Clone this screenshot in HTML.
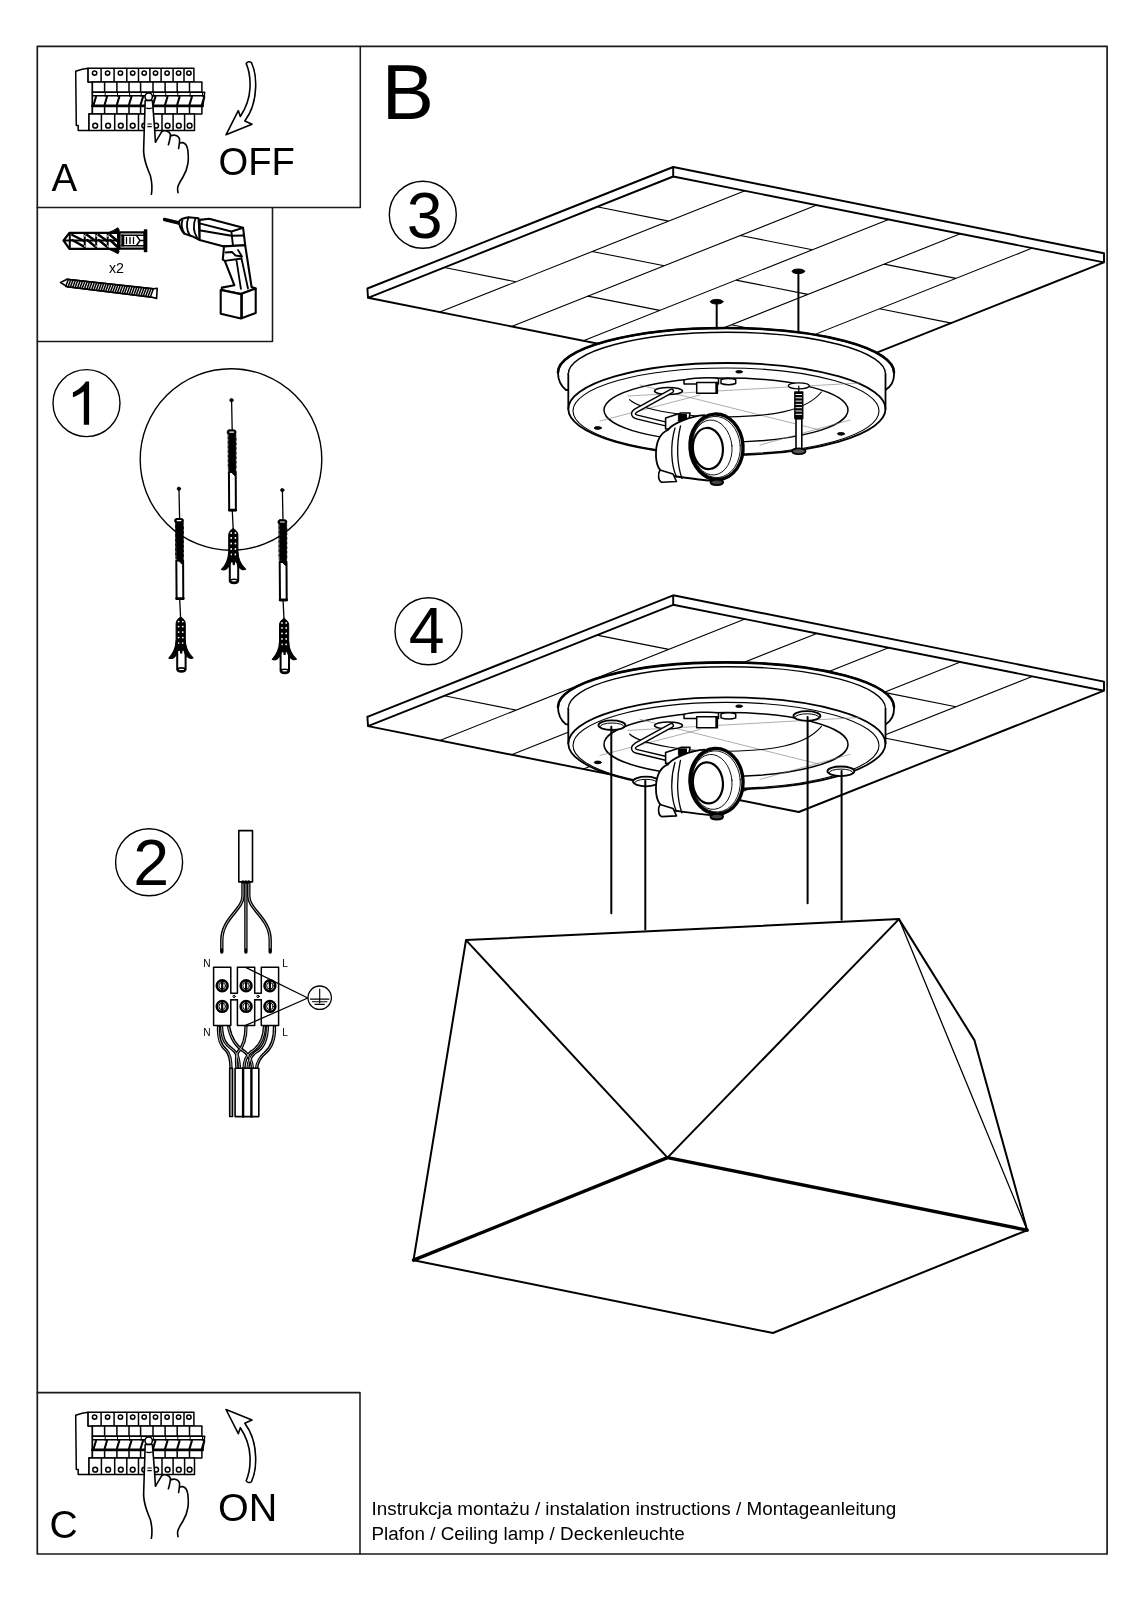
<!DOCTYPE html>
<html><head><meta charset="utf-8">
<style>
html,body{margin:0;padding:0;background:#fff;width:1131px;height:1600px;overflow:hidden}
svg{position:absolute;left:0;top:0;display:block;will-change:transform}
text{font-family:"Liberation Sans",sans-serif;fill:#000}
.tx{opacity:0.999}
</style></head>
<body>
<svg width="1131" height="1600" viewBox="0 0 1131 1600">
<g fill="none" stroke="#000" stroke-linejoin="round" stroke-linecap="round">
<g id="plate">
<path stroke-width="1.1" d="M439.8 312.1L745 190.8M511.6 326.4L816.8 205.1M583.4 340.8L888.6 219.5M655.2 355.1L960.4 233.8M727 369.4L1032.2 248.1M444.3 267.5L516.1 281.8M596.9 206.8L668.7 221.1M592.4 251.5L664.2 265.8M587.9 296.1L659.7 310.4M740.5 235.5L812.3 249.8M736 280.1L807.8 294.4M731.5 324.7L803.3 339.1M884.1 264.1L955.9 278.4M879.6 308.7L951.4 323.1"/>
<path stroke-width="1.9" d="M368 297.8L798.8 383.7L1104 262.4M367.4 288.5L673.2 167L1104 253.3L1104 262.4M367.4 288.5L368 297.8L673.2 176.5L1104 262.4M673.2 167V176.5"/>
</g>
<use href="#plate" transform="translate(0,428.3)"/>
<g id="canopy">
<!-- flange -->
<path stroke-width="1.8" fill="#fff" d="M558 372.5A168 44.5 0 0 1 894 372.5C894.5 380 892 386 885.5 390L566 390C561 386 558 380 558 372.5Z"/>
<path stroke-width="2.6" d="M558 372.5A168 44.5 0 0 1 894 372.5"/>
<path stroke-width="1.4" d="M568.3 374A158.6 41.7 0 0 1 885.5 374"/>
<!-- body side -->
<path stroke="none" fill="#fff" d="M568.3 373V409A158.6 46 0 0 0 885.5 409V373Z"/><path stroke-width="1.8" d="M568.3 374V409A158.6 46 0 0 0 885.5 409V374"/>
<!-- bottom face rim -->
<path stroke-width="1.8" d="M568.3 409A158.6 46 0 0 1 885.5 409"/>
<path stroke-width="1.1" d="M573 411A153 43 0 0 1 879 411A153 43 0 0 1 573 411"/>
<!-- recess -->
<path stroke-width="1.5" d="M604 410A122 32 0 0 1 848 410A122 32 0 0 1 604 410"/>
<path stroke-width="0.6" stroke="#777" d="M628 396L860 383M600 421L700 395M760 445L850 420M640 385L820 430"/>
<path stroke-width="1.1" d="M629.6 399.6C640 410 690 418 728.6 416.9C770 416 805 412 821.4 392"/>
<!-- dots -->
<ellipse cx="597.8" cy="428" rx="3.6" ry="1.4" fill="#000" stroke-width="0.8"/>
<ellipse cx="841" cy="433.8" rx="3.6" ry="1.4" fill="#000" stroke-width="0.8"/>
<ellipse cx="739.1" cy="371.8" rx="3.4" ry="1.3" fill="#000" stroke-width="0.8"/>
<!-- top brackets -->
<path stroke-width="1.5" fill="#fff" d="M684 380C690 378 712 377 718.5 378.5L718.5 384H684Z"/>
<path stroke-width="1.5" fill="#fff" d="M696.7 382.4H717.4V393.3H696.7Z"/>
<path stroke-width="2.4" d="M716.5 383V392.5"/>
<path stroke-width="1.5" fill="#fff" d="M721 379.5C725 378 732 378 735.7 379.5V383.5C732 385 725 385 721 383.5Z"/>
</g>
<g id="socket">
<!-- wire hole -->
<ellipse cx="668.5" cy="391" rx="14" ry="3.5" stroke-width="1.5" fill="#fff"/>
<path stroke-width="5.2" d="M671.5 391L636 410.5C632 413 633 416 637 417L668 424.5"/>
<path stroke-width="2.4" stroke="#fff" d="M671.5 391L636 410.5C632 413 633 416 637 417L668 424.5"/>
<!-- bracket -->
<path stroke-width="1.6" fill="#fff" d="M665.6 418L681 413H690L687.5 429H665.6Z"/>
<path stroke-width="1" fill="#000" d="M678.8 414.5H686.5V421H678.8Z"/>
<!-- socket -->
<path stroke-width="1.8" fill="#fff" d="M667.9 430C672 424 690 416 704.7 415.2L712 480.7C700 480 680 477 667.9 475C660 473 655.5 465 656 452C656.5 440 661 433 667.9 430Z"/>
<path stroke-width="1.3" d="M675 428C670 445 671 465 676.5 477M680.5 426C676 445 677 465 682 478.5"/>
<path stroke-width="1.6" fill="#fff" d="M660 470L673 474L676.5 481.5L661.5 482.2C658 480.5 657.8 474 660 470Z"/>
<ellipse cx="716.5" cy="446.8" rx="26.5" ry="32.8" stroke-width="3.4" fill="#fff" transform="rotate(-4 716.5 446.8)"/>
<ellipse cx="716" cy="447" rx="24.3" ry="30.6" stroke-width="0.9" transform="rotate(-4 716 447)"/>
<ellipse cx="712" cy="447.5" rx="20" ry="27.5" stroke-width="0.9" transform="rotate(-5 712 447.5)"/>
<ellipse cx="707.9" cy="448.5" rx="15" ry="20.6" stroke-width="2.2" transform="rotate(-5 707.9 448.5)"/>
<ellipse cx="716.8" cy="482.3" rx="6.3" ry="2.8" stroke-width="1.8" fill="#444"/>

</g>
<g id="c3extra">
<path stroke-width="2" d="M716.7 302V328.5M798.4 271.5V331.8"/>
<ellipse cx="716.7" cy="301.7" rx="6.3" ry="2.3" fill="#000" stroke-width="1"/>
<ellipse cx="798.4" cy="271.3" rx="6.3" ry="2.3" fill="#000" stroke-width="1"/>
<ellipse cx="798.8" cy="385.8" rx="10.5" ry="3" stroke-width="1.3" fill="#fff"/>
<path stroke-width="1.6" fill="#fff" d="M796 418.7H801.8V449.5H796Z"/>
<path stroke-width="1.3" fill="#000" d="M794.8 392H802.8V418.7H794.8Z"/>
<path stroke-width="1" stroke="#fff" d="M796 394.5H801.6M796 397.8H801.6M796 401.1H801.6M796 404.4H801.6M796 407.7H801.6M796 411H801.6M796 414.3H801.6"/>
<path stroke-width="1.2" d="M798.8 386V392"/>
<ellipse cx="798.8" cy="451.3" rx="6.8" ry="2.9" stroke-width="1.6" fill="#555"/>
</g>
<use href="#canopy" transform="translate(0,334.4)"/>
<g id="c4extra">
<g stroke-width="1.8" fill="#fff">
<ellipse cx="611.9" cy="725.2" rx="13.5" ry="4.8"/>
<ellipse cx="646" cy="781.5" rx="13" ry="4.8"/>
<ellipse cx="806.9" cy="716" rx="13.5" ry="4.8"/>
<ellipse cx="840.9" cy="771.3" rx="13.5" ry="4.8"/>
</g>
<g stroke-width="1">
<path d="M600 726.5A12 3.5 0 0 1 624 726.5M634.5 782.8A11.5 3.5 0 0 1 657.5 782.8M795 717.3A12 3.5 0 0 1 819 717.3M829 772.6A12 3.5 0 0 1 853 772.6"/>
</g>
</g>
<use href="#socket" transform="translate(0,334.4)"/>

<g id="shade">
<path stroke-width="2" d="M466 940.1L899 919.1L667.5 1157.6ZM466 940.1L413.5 1260.2L772.9 1333L1027.2 1230.2L974.5 1040.4L899 919.1"/>
<path stroke-width="1.3" d="M899 919.1L1027.2 1230.2"/>
<path stroke-width="3.4" d="M413.5 1260.2L667.5 1157.6L1027.2 1230.2"/>
</g>
<g id="circles" stroke-width="1.4">
<circle cx="86.5" cy="403.1" r="33.5"/>
<circle cx="149.1" cy="862.2" r="33.5"/>
<circle cx="422.8" cy="214.8" r="33.5"/>
<circle cx="428.5" cy="631.3" r="33.5"/>
<circle cx="231" cy="459.5" r="90.8"/>
</g>
<g id="rods" stroke-width="2">
<path d="M611.3 726.7V913.2M645.3 780.7V929.5M807.6 716.9V903.3M841.6 770.9V919.7"/>
</g>
<g id="panel"><path stroke-width="1.5" fill="#fff" d="M75.7 71.3C79 70 84 68.5 88.1 68.2V82.1H92.4V113.8H89V130.4H78.2V125.4H76.3Z"/><path stroke-width="1.5" fill="#fff" d="M88.1 68.2H193.9V82.1H88.1ZM101.1 68.2V82.1M114.1 68.2V82.1M126.8 68.2V82.1M138.5 68.2V82.1M149.9 68.2V82.1M161.1 68.2V82.1M173.1 68.2V82.1M184 68.2V82.1"/><circle stroke-width="1.5" cx="94.6" cy="73.1" r="2.2"/><circle stroke-width="1.5" cx="107.6" cy="73.1" r="2.2"/><circle stroke-width="1.5" cx="120.4" cy="73.1" r="2.2"/><circle stroke-width="1.5" cx="132.7" cy="73.1" r="2.2"/><circle stroke-width="1.5" cx="144.2" cy="73.1" r="2.2"/><circle stroke-width="1.5" cx="155.5" cy="73.1" r="2.2"/><circle stroke-width="1.5" cx="167.1" cy="73.1" r="2.2"/><circle stroke-width="1.5" cx="178.6" cy="73.1" r="2.2"/><circle stroke-width="1.5" cx="188.9" cy="73.1" r="2.2"/><path stroke-width="1.5" fill="#fff" d="M92.4 82.1H201.9V92.3H92.4ZM104.6 82.1V92.3M116.9 82.1V92.3M129 82.1V92.3M140.6 82.1V92.3M153 82.1V92.3M165.1 82.1V92.3M177.2 82.1V92.3M189.5 82.1V92.3"/><path stroke-width="1.5" fill="#fff" d="M92.4 92.3H204.7L202.9 105.8H92.4Z M92.4 95.8H204.2"/><path stroke-width="2.1" d="M93.6 104.8L96 96.8M104.6 104.8L107 96.8M116.9 104.8L119.3 96.8M129 104.8L131.4 96.8M140.6 104.8L143 96.8M153 104.8L155.4 96.8M165.1 104.8L167.5 96.8M177.2 104.8L179.6 96.8M189.5 104.8L191.9 96.8M201.9 104.8L204.3 96.8"/><path stroke-width="1" d="M105.2 96.4V92.3M117.5 96.4V92.3M129.6 96.4V92.3M141.2 96.4V92.3M153.6 96.4V92.3M165.7 96.4V92.3M177.8 96.4V92.3M190.1 96.4V92.3M202.5 96.4V92.3"/><path stroke-width="2.8" d="M92.4 106H202.5"/><path stroke-width="1.5" fill="#fff" d="M92.4 106.6H201.9V114H92.4ZM104.6 106.6V114M116.9 106.6V114M129 106.6V114M140.6 106.6V114M153 106.6V114M165.1 106.6V114M177.2 106.6V114M189.5 106.6V114"/><path stroke-width="1.5" fill="#fff" d="M89 114H194.5V130.4H89ZM101.4 114V130.4M114.7 114V130.4M126.8 114V130.4M138.5 114V130.4M150.2 114V130.4M162 114V130.4M173.1 114V130.4M184.6 114V130.4"/><circle stroke-width="1.5" cx="95.2" cy="125.7" r="2.4"/><circle stroke-width="1.5" cx="108.1" cy="125.7" r="2.4"/><circle stroke-width="1.5" cx="120.8" cy="125.7" r="2.4"/><circle stroke-width="1.5" cx="132.7" cy="125.7" r="2.4"/><circle stroke-width="1.5" cx="144.3" cy="125.7" r="2.4"/><circle stroke-width="1.5" cx="156.1" cy="125.7" r="2.4"/><circle stroke-width="1.5" cx="167.6" cy="125.7" r="2.4"/><circle stroke-width="1.5" cx="178.8" cy="125.7" r="2.4"/><circle stroke-width="1.5" cx="189.6" cy="125.7" r="2.4"/><path stroke-width="1.6" fill="#fff" d="M151.4 194.3C152.6 187 152 182 150.4 175.7C147 167 144 162 143.6 150.9C143.8 140 144.5 120 145.2 100.5L152.4 100.5C153.5 115 154.8 128 155.4 142.3L161.6 131.8C163 130.8 165 130.6 166.5 131.1C168.5 131.8 170 132.6 170.4 134.2C170.5 137 169.5 141 168.4 144.8M170.6 136.2C172 135.2 173.6 135 175 135.2C177 135.6 179 137 179.5 139C179.8 142 179.2 145 178.6 148.5M180.1 142.9C181.2 142.6 182.6 142.6 183.8 142.9C186.2 144 187.3 146.5 187.8 150C188.4 155 188.6 160 187.8 164C187 169 185.5 173 183 177C180.5 181 178 185 177.7 187.5C177.4 190 177.8 191.5 178 192.7"/><circle stroke-width="1.6" fill="#fff" cx="148.7" cy="96.7" r="3.7"/><path stroke-width="1.2" d="M146.6 108.1Q149 109 151.4 108.1M147.8 124H151.3M147.8 126.6H151.3"/></g>
<use href="#panel" transform="translate(0,1344)"/>
<path id="arrowA" stroke-width="1.6" fill="#fff" d="M246.2 63.6C247 61.5 250.5 61 251.6 63C254.8 70 256 80 255.6 88C255.2 100 251.5 112 244.8 121L252 124.2L226 134.8L238.3 110.6L240.3 116.5C246 108 249.5 98 250 88C250.5 78 249 70 246.2 63.6Z"/>
<use href="#arrowA" transform="translate(0,1544.3) scale(1,-1)"/>
<g id="tools">
<!-- dowel -->
<path stroke-width="2.2" fill="#fff" d="M63.6 240.5L69.4 232.8H119.5V248.9H69.4Z"/>
<path stroke-width="1.2" fill="#000" d="M109 232.6C112 231.5 115 230 117.8 228L119.2 230.3L117.6 232.6ZM109 249.1C112 250.2 115 251.6 117.8 253.4L119 251.4L117.6 249.1Z"/>
<path stroke-width="2" d="M63.6 240.5H118M69.8 233V248.5M84.7 233V248.5M96.2 233V248.5M107.7 233V248.5M118 232V249"/>
<path stroke-width="2.5" d="M72.3 235L84.2 241M72.3 240L83.7 246.5M87.2 235L95.7 241M87.2 240L95.2 246.5M98.7 235L107.2 241M98.7 240L106.7 246.5M110.2 235L117.5 241M110.2 240L117.0 246.5"/>
<g fill="#fff" stroke="none"><circle cx="84.7" cy="236" r="0.8"/><circle cx="96.2" cy="236" r="0.8"/><circle cx="107.7" cy="236" r="0.8"/><circle cx="84.7" cy="246" r="0.8"/><circle cx="96.2" cy="246" r="0.8"/><circle cx="107.7" cy="246" r="0.8"/></g>
<path stroke-width="2.2" fill="#fff" d="M119.5 232.4H144.5V248.6H119.5Z"/>
<path stroke-width="1.5" fill="#000" d="M144.5 229.9H146.6V251.6H144.5Z"/>
<path stroke-width="1.4" d="M121 235.2H144M121 245.8H144M136.5 235.5L140 240.5L136.5 245.5M140 240.5H144"/>
<path stroke-width="3" d="M122.8 236V245"/>
<path stroke-width="1.3" d="M126.5 237.5V243.5M130 237.5V243.5M133.5 237.5V243.5"/>
<!-- screw -->
<path stroke-width="1.6" fill="#fff" d="M60.6 282.5L67 279.3L153.4 288.8L157.2 288.3L156.6 298.4L151.9 297.3L67 286.7Z"/>
<path stroke-width="1.5" d="M68.3 279.5L65.7 286.5M70.7 279.8L68.1 286.7M73.0 280.1L70.4 287.0M75.4 280.3L72.8 287.3M77.7 280.6L75.1 287.5M80.1 280.9L77.5 287.8M82.5 281.1L79.9 288.1M84.8 281.4L82.2 288.3M87.2 281.7L84.6 288.6M89.5 281.9L87.0 288.9M91.9 282.2L89.3 289.1M94.3 282.5L91.7 289.4M96.6 282.7L94.0 289.7M99.0 283.0L96.4 289.9M101.4 283.3L98.8 290.2M103.7 283.5L101.1 290.5M106.1 283.8L103.5 290.7M108.4 284.1L105.8 291.0M110.8 284.3L108.2 291.3M113.2 284.6L110.6 291.5M115.5 284.9L112.9 291.8M117.9 285.1L115.3 292.1M120.2 285.4L117.6 292.3M122.6 285.7L120.0 292.6M125.0 285.9L122.4 292.9M127.3 286.2L124.7 293.1M129.7 286.5L127.1 293.4M132.0 286.7L129.5 293.7M134.4 287.0L131.8 293.9M136.8 287.3L134.2 294.2M139.1 287.5L136.5 294.5M141.5 287.8L138.9 294.7M143.9 288.1L141.3 295.0M146.2 288.3L143.6 295.3M148.6 288.6L146.0 295.5M150.9 288.9L148.3 295.8M153.3 289.1L150.7 296.1"/>
<path stroke-width="1.4" d="M67 279.3L153.4 288.8M67 286.7L151.9 297.3"/>
<!-- x2 -->
<!-- drill -->
<path stroke-width="3.4" d="M164.5 219.5L179 223"/>
<path stroke-width="2" fill="#fff" d="M179 221.5C180 219.5 184 218 188.5 217.3L198.5 218.3L199.8 240L193.5 236.8L184 233.5C181 230 179.3 225.5 179 221.5Z"/>
<path stroke-width="1.8" d="M182.5 220C181 224 182 229.5 184.5 233.2M188.5 217.5C186 223 186.5 231 190 235.5M195.5 218C193 225 193.5 232 197 237.5"/>
<path stroke-width="2.1" fill="#fff" d="M199.6 219.9L209.1 218.8L243.1 227.8L245.2 245.3L224 246.4L199.6 240Z"/>
<path stroke-width="1.9" d="M200.6 223.6L231.4 231.5L243.1 227.8M200.6 230.5L231.4 235.8L244 235.5M231.4 231.5L233 246"/>
<path stroke-width="2.1" fill="#fff" d="M224 246.4L222.8 259.7L224.8 260.9L234.3 285.2L221.9 287.6V290L240.9 294.1L255.7 288.5L251.6 287L245.2 245.3Z"/>
<path stroke-width="1.8" d="M225.5 252.5L232 252L235.5 255.5L242 256.5L238 250M236.4 259.7L240.9 288.8M241.5 258.5L248 288.5M224.8 260.9L241.5 258.5"/>
<path stroke-width="2.1" fill="#fff" d="M220.7 290V313.7L240.9 318.5L255.7 313.1V288.5L240.9 294.1Z"/>
<path stroke-width="1.4" d="M240.9 294.1V318.5M242.2 294V318"/>
</g>

<g id="asm">
<circle cx="231.5" cy="400.2" r="1.7" fill="#000" stroke-width="0.8"/>
<path stroke-width="1.3" d="M231.6 401L232.2 430M232.3 511L233.2 529"/>
<path stroke-width="2" fill="#fff" d="M228.9 472H235.7L235.9 510.4H229.2Z"/>
<path stroke-width="0.8" fill="#000" d="M228.5 433.5H235.8V472L235 476L229.5 470.5H228.8Z"/>
<path stroke-width="0.9" stroke-dasharray="1.6 3" d="M228.3 437V468M236 438.5V468"/>
<rect x="227.2" y="429.9" width="8.8" height="4.4" rx="2" stroke-width="1" fill="#000"/>
<path stroke-width="1.2" stroke="#fff" d="M229.8 432.1H233.5"/>
<path stroke-width="2.6" d="M229.2 510H235.9"/>
<path stroke-width="2" fill="#fff" d="M229.8 558V581C230.5 584 237.5 584 238.2 581V558Z"/>
<ellipse cx="234" cy="580.8" rx="3.6" ry="1.5" stroke-width="1.6" fill="#fff"/>
<path stroke-width="1" fill="#000" d="M233.2 528.5C230.5 530 228.8 532 228.7 535V557C228.7 560 230 562 231.5 562H235C236.8 562 237.9 560 237.9 557V535C237.8 532 236 530 233.2 528.5Z"/>
<g fill="#fff" stroke="none">
<circle cx="231.2" cy="533" r="0.9"/><circle cx="235.4" cy="533" r="0.9"/>
<circle cx="231.2" cy="538" r="0.9"/><circle cx="235.4" cy="538" r="0.9"/>
<circle cx="231.2" cy="543.5" r="0.9"/><circle cx="235.4" cy="543.5" r="0.9"/>
<circle cx="231.2" cy="549" r="0.9"/><circle cx="235.4" cy="549" r="0.9"/>
<circle cx="231.2" cy="554.5" r="0.9"/><circle cx="235.4" cy="554.5" r="0.9"/>
</g>
<path stroke-width="2.4" d="M233.8 558V564"/>
<path stroke-width="1.2" fill="#000" d="M228.8 552C228.5 558 226 565 221.5 569.5C224 570.5 227 569 229 566C230.5 563 231 560 231 557ZM237.8 552C238 558 241 565 245.6 569.3C243 570.5 239.8 569 238 566C236.5 563 236 560 236 557Z"/>
</g>
<use href="#asm" transform="translate(-52.6,88.6)"/>
<use href="#asm" transform="translate(50.8,89.9)"/>

<g id="step2">
<rect x="238.8" y="830.6" width="13.7" height="51.3" stroke-width="1.6" fill="#fff"/>
<g stroke-width="3.4">
<path d="M243 882V896C243 910 222 918 221.8 940V952"/>
<path d="M245.9 882V952"/>
<path d="M248.8 882V896C248.8 910 270 918 270.2 940V952"/>
</g>
<g stroke-width="0.7" stroke="#fff">
<path d="M243 884V896C243 910 222 918 221.8 940V948"/>
<path d="M245.9 884V948"/>
<path d="M248.8 884V896C248.8 910 270 918 270.2 940V948"/>
</g>
<!-- lower wires -->
<g stroke-width="3.3">
<path d="M218.5 1026C218 1040 221 1046 226 1050C230 1054 231 1060 231 1069"/>
<path d="M221.5 1026C222 1040 226 1045 232 1049C238 1053 239 1060 239.5 1069"/>
<path d="M228.5 1026C231 1040 238 1048 245 1052C250 1056 252 1062 252.5 1069"/>
<path d="M246 1026C246 1040 242 1048 238 1052C235.5 1056 236.5 1062 237 1069"/>
<path d="M264.5 1026C264 1040 258 1048 251 1052C246 1056 244 1062 244 1069"/>
<path d="M267.5 1026C267 1042 262 1049 256 1052C250.5 1056 248 1062 248 1069"/>
<path d="M274.5 1026C275 1040 271 1048 265 1053C259 1058 257 1063 256.5 1069"/>
</g>
<g stroke-width="0.7" stroke="#fff">
<path d="M218.5 1027C218 1040 221 1046 226 1050C230 1054 231 1060 231 1068"/>
<path d="M221.5 1027C222 1040 226 1045 232 1049C238 1053 239 1060 239.5 1068"/>
<path d="M228.5 1027C231 1040 238 1048 245 1052C250 1056 252 1062 252.5 1068"/>
<path d="M246 1027C246 1040 242 1048 238 1052C235.5 1056 236.5 1062 237 1068"/>
<path d="M264.5 1027C264 1040 258 1048 251 1052C246 1056 244 1062 244 1068"/>
<path d="M267.5 1027C267 1042 262 1049 256 1052C250.5 1056 248 1062 248 1068"/>
<path d="M274.5 1027C275 1040 271 1048 265 1053C259 1058 257 1063 256.5 1068"/>
</g>
<rect x="229.6" y="1068.2" width="3" height="48.4" stroke-width="1.4" fill="#999"/>
<rect x="235.1" y="1068.2" width="23.7" height="48.4" stroke-width="1.6" fill="#fff"/>
<path stroke-width="2.4" d="M243.1 1068.5V1116.5M251.4 1068.5V1116.5"/>
<!-- terminal block -->
<path stroke-width="1.5" fill="#fff" d="M213.6 967.2H230.8V993.2H237.4V967.2H254.7V993.2H261.3V967.2H278.6V1025.6H261.3V999.7H254.7V1025.6H237.4V999.7H230.8V1025.6H213.6Z"/>
<path stroke-width="1.3" d="M230.8 999.7H237.4M254.7 999.7H261.3"/>
<circle cx="234.1" cy="996.4" r="1.2" stroke-width="1"/>
<circle cx="258" cy="996.4" r="1.2" stroke-width="1"/>
<g stroke-width="2.6">
<circle cx="222.2" cy="985.8" r="5.4"/><circle cx="246.1" cy="985.8" r="5.4"/><circle cx="269.9" cy="985.8" r="5.4"/>
<circle cx="222.2" cy="1006.4" r="5.4"/><circle cx="246.1" cy="1006.4" r="5.4"/><circle cx="269.9" cy="1006.4" r="5.4"/>
</g>
<g stroke-width="1">
<circle cx="222.2" cy="985.8" r="3.3"/><circle cx="246.1" cy="985.8" r="3.3"/><circle cx="269.9" cy="985.8" r="3.3"/>
<circle cx="222.2" cy="1006.4" r="3.3"/><circle cx="246.1" cy="1006.4" r="3.3"/><circle cx="269.9" cy="1006.4" r="3.3"/>
</g>
<path stroke-width="2.2" d="M222.2 982V989.6M246.1 982V989.6M269.9 982V989.6M222.2 1002.6V1010.2M246.1 1002.6V1010.2M269.9 1002.6V1010.2"/>
<path stroke-width="1.3" d="M246.1 967.6L307.8 998M246.1 1025.2L307.8 998"/>
<circle cx="319.7" cy="997.7" r="11.7" stroke-width="1.3" fill="#fff"/>
<path stroke-width="1.1" d="M319.7 989.1V1003M310.4 999.1H329M312.4 1001.7H327M315 1004.4H324.3"/>
</g>

<g id="frame" stroke-width="1.7" stroke="#1a1a1a">
<rect x="37.3" y="46.4" width="1069.8" height="1507.6"/>
<path stroke-width="1.55" d="M360.3 46.4V207.4M37.3 207.4H360.3M272.5 207.4V341.4H37.3M37.3 1392.6H360V1554"/>
</g>
</g>
<g class="tx">
<text x="51.5" y="191" font-size="38.5">A</text>
<text x="218.5" y="175" font-size="39" textLength="76.3" lengthAdjust="spacingAndGlyphs">OFF</text>
<text x="381.7" y="119" font-size="78.3">B</text>
<text x="49.5" y="1537.8" font-size="39">C</text>
<text x="218" y="1520.7" font-size="39.5">ON</text>
<text x="406.7" y="238.4" font-size="64.5">3</text>
<text x="408.8" y="652.7" font-size="64.5">4</text>
<path d="M72.9 392.2C78 390 83 386 85.8 381.4H89.1V424.7H83.8V391.3C80.5 394 76.5 396 72.9 397.3Z"/>
<text x="133.2" y="884.5" font-size="64.5">2</text>
<text x="109" y="272.9" font-size="14.2">x2</text>
<text x="203.3" y="966.8" font-size="10.2">N</text>
<text x="282.3" y="966.8" font-size="10.2">L</text>
<text x="203.3" y="1035.8" font-size="10.2">N</text>
<text x="282.3" y="1035.8" font-size="10.2">L</text>
<text x="371.5" y="1515" font-size="18.85">Instrukcja montażu / instalation instructions / Montageanleitung</text>
<text x="371.5" y="1540" font-size="18.85">Plafon / Ceiling lamp / Deckenleuchte</text>
</g>
</svg>
</body></html>
